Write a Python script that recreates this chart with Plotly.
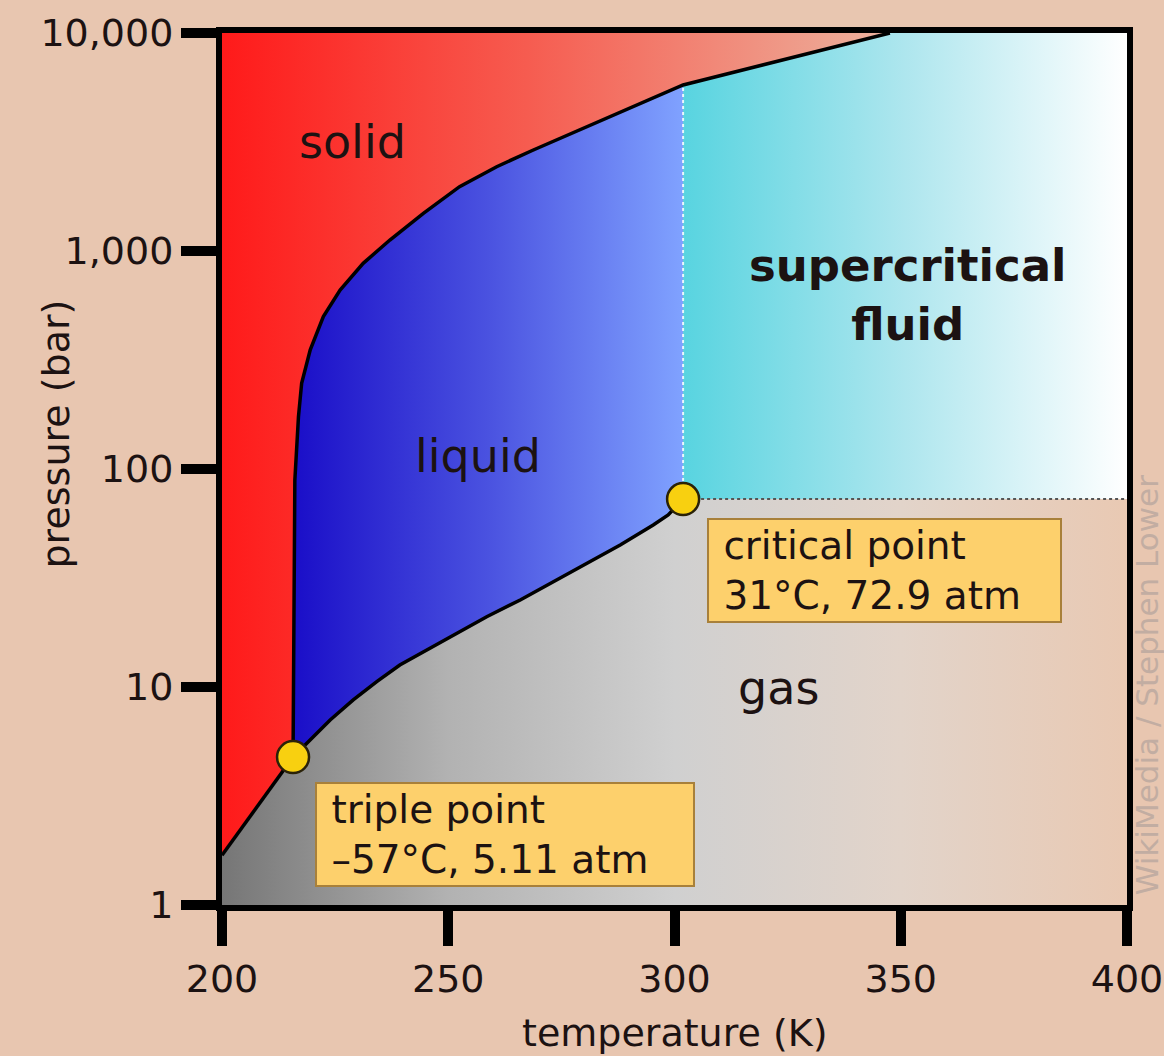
import numpy as np
import plotly.graph_objects as go

# ---------------- data ----------------
# melting (solid/liquid) curve, from the triple point up to the top of the chart
melt_T = [215.7, 215.9, 216.1, 216.9, 217.6, 219.5, 222.4, 226.1, 231.2, 237.1,
          244.5, 252.5, 260.7, 268.8, 301.9, 347.6]
melt_P = [4.77, 40.0, 89.0, 174.0, 247.0, 352.0, 500.0, 662.0, 878.0, 1123.0,
          1489.0, 1972.0, 2436.0, 2906.0, 5775.0, 10000.0]

# vaporization (liquid/gas) curve, triple point -> critical point
vap_T = [215.7, 219.1, 223.9, 229.0, 234.2, 239.3, 245.2, 251.1, 258.5, 265.9,
         273.2, 280.6, 288.0, 295.3, 298.6, 301.9]
vap_P = [4.77, 5.61, 7.06, 8.72, 10.58, 12.62, 14.78, 17.32, 21.01, 25.07,
         30.41, 36.90, 44.81, 55.35, 61.52, 72.8]

# sublimation (solid/gas) curve, left edge -> triple point
sub_T = [200.0, 207.7, 215.7]
sub_P = [1.69, 2.82, 4.77]

triple_T, triple_P = 215.7, 4.77
crit_T, crit_P = 301.9, 72.8

x_ticks = [200, 250, 300, 350, 400]
y_ticks = [1, 10, 100, 1000, 10000]
y_ticktext = ["1", "10", "100", "1,000", "10,000"]
T_min, T_max = 200, 400
P_min, P_max = 1, 10000

region_labels = ["solid", "liquid", "supercritical<br>fluid", "gas"]
triple_label = "&nbsp;triple point<br>&nbsp;–57°C, 5.11 atm"
crit_label = "&nbsp;critical point<br>&nbsp;31°C, 72.9 atm"
credit = "WikiMedia / Stephen Lower"

# ---------------- styling ----------------
BG = "#e8c6b0"
FONT = "DejaVu Sans"
TXT = "#1c1212"

fig = go.Figure()

# solid region: left edge, top edge, melting curve, sublimation curve
solid_x = [T_min, T_min] + melt_T[::-1] + sub_T[::-1][1:]
solid_y = [sub_P[0], P_max] + melt_P[::-1] + sub_P[::-1][1:]
fig.add_trace(go.Scatter(
    x=solid_x, y=solid_y, mode="lines", fill="toself", line=dict(width=0),
    fillgradient=dict(type="horizontal", start=200, stop=350,
                      colorscale=[[0, "#ff1a1a"], [0.45, "#f65c50"], [1, "#ecb4a0"]]),
    hoverinfo="skip", showlegend=False))

# liquid region: melting curve up to the critical temperature, down, vaporization curve back
ic = melt_T.index(crit_T)
liq_x = melt_T[:ic + 1] + vap_T[::-1]
liq_y = melt_P[:ic + 1] + vap_P[::-1]
fig.add_trace(go.Scatter(
    x=liq_x, y=liq_y, mode="lines", fill="toself", line=dict(width=0),
    fillgradient=dict(type="horizontal", start=triple_T, stop=crit_T,
                      colorscale=[[0, "#1a0ec8"], [0.5, "#4a52e0"], [1, "#80a2ff"]]),
    hoverinfo="skip", showlegend=False))

# supercritical region
sc_x = [crit_T] + melt_T[ic:] + [T_max, T_max]
sc_y = [crit_P] + melt_P[ic:] + [P_max, crit_P]
fig.add_trace(go.Scatter(
    x=sc_x, y=sc_y, mode="lines", fill="toself", line=dict(width=0),
    fillgradient=dict(type="horizontal", start=crit_T, stop=T_max,
                      colorscale=[[0, "#58d4e0"], [0.5, "#aee6ee"], [1, "#ffffff"]]),
    hoverinfo="skip", showlegend=False))

# gas region
gas_x = [T_min] + sub_T + vap_T[1:] + [T_max, T_max]
gas_y = [P_min] + sub_P + vap_P[1:] + [crit_P, P_min]
fig.add_trace(go.Scatter(
    x=gas_x, y=gas_y, mode="lines", fill="toself", line=dict(width=0),
    fillgradient=dict(type="horizontal", start=T_min, stop=T_max,
                      colorscale=[[0, "#767676"], [0.25, "#b2b2b2"], [0.5, "#d0d0d0"],
                                  [0.75, "#e2d4ca"], [1, "#e9c9b3"]]),
    hoverinfo="skip", showlegend=False))

# dotted boundaries of the supercritical region
fig.add_trace(go.Scatter(x=[crit_T, crit_T], y=[crit_P, melt_P[ic]], mode="lines",
                         line=dict(color="rgba(255,255,255,0.85)", width=2, dash="dot"),
                         hoverinfo="skip", showlegend=False))
fig.add_trace(go.Scatter(x=[crit_T, T_max], y=[crit_P, crit_P], mode="lines",
                         line=dict(color="#555555", width=2, dash="dot"),
                         hoverinfo="skip", showlegend=False))

# phase boundary curves
for xs, ys in [(melt_T, melt_P), (vap_T, vap_P), (sub_T, sub_P)]:
    fig.add_trace(go.Scatter(x=xs, y=ys, mode="lines",
                             line=dict(color="black", width=3.5),
                             hoverinfo="skip", showlegend=False))

# triple and critical points
fig.add_trace(go.Scatter(x=[triple_T, crit_T], y=[triple_P, crit_P], mode="markers",
                         marker=dict(size=32, color="#f8d010",
                                     line=dict(color="#2a2208", width=2.5)),
                         cliponaxis=False, hoverinfo="skip", showlegend=False))

annos = []
# region labels: (text, T, P, bold)
label_pos = [(region_labels[0], 228.9, 10 ** 3.50, False),
             (region_labels[1], 256.6, 10 ** 2.06, False),
             (region_labels[2], 351.4, 10 ** 2.80, True),
             (region_labels[3], 322.9, 10 ** 0.995, False)]
for txt, tx, py, bold in label_pos:
    annos.append(dict(x=tx, y=np.log10(py), xref="x", yref="y", text=txt, showarrow=False,
                      xanchor="center", yanchor="middle",
                      font=dict(family=FONT, size=46 if not bold else 45, color=TXT,
                                weight="bold" if bold else "normal")))

# info boxes
box_style = dict(xref="x", yref="y", showarrow=False, align="left", valign="middle",
                 xanchor="center", yanchor="middle",
                 bgcolor="#fdd06c", bordercolor="#a8803a", borderwidth=2, borderpad=2,
                 font=dict(family=FONT, size=39, color=TXT))
annos.append(dict(text=triple_label, x=262.5, y=0.3235, width=372, height=97, **box_style))
annos.append(dict(text=crit_label, x=346.4, y=1.5345, width=347, height=97, **box_style))

# axis titles and credit
annos.append(dict(text="pressure (bar)", xref="paper", yref="paper", x=-0.183, y=0.540,
                  textangle=-90, showarrow=False, xanchor="center", yanchor="middle",
                  font=dict(family=FONT, size=38, color=TXT)))
annos.append(dict(text="temperature (K)", xref="paper", yref="paper", x=0.5, y=-0.147,
                  showarrow=False, xanchor="center", yanchor="middle",
                  font=dict(family=FONT, size=38, color=TXT)))
annos.append(dict(text=credit, xref="paper", yref="paper", x=1.022, y=0.252,
                  textangle=-90, showarrow=False, xanchor="center", yanchor="middle",
                  font=dict(family=FONT, size=31, color="#c2ada2")))

fig.update_layout(
    width=1164, height=1056, autosize=False,
    margin=dict(l=222, r=37, t=33, b=151, autoexpand=False),
    paper_bgcolor=BG, plot_bgcolor=BG,
    annotations=annos,
    showlegend=False,
)
axis_common = dict(ticks="outside", ticklen=35, tickwidth=10, tickcolor="black",
                   showline=True, linewidth=6, linecolor="black", mirror=True,
                   showgrid=False, zeroline=False, automargin=False,
                   tickfont=dict(family=FONT, size=38, color=TXT))
fig.update_xaxes(range=[T_min, T_max], tickvals=x_ticks, **axis_common)
fig.update_yaxes(type="log", range=[np.log10(P_min), np.log10(P_max)],
                 tickvals=y_ticks, ticktext=y_ticktext, **axis_common)

fig.write_html("out.html",
               config={"displayModeBar": False, "responsive": False},
               post_script="document.body.style.margin='0';document.body.style.overflow='hidden';")
